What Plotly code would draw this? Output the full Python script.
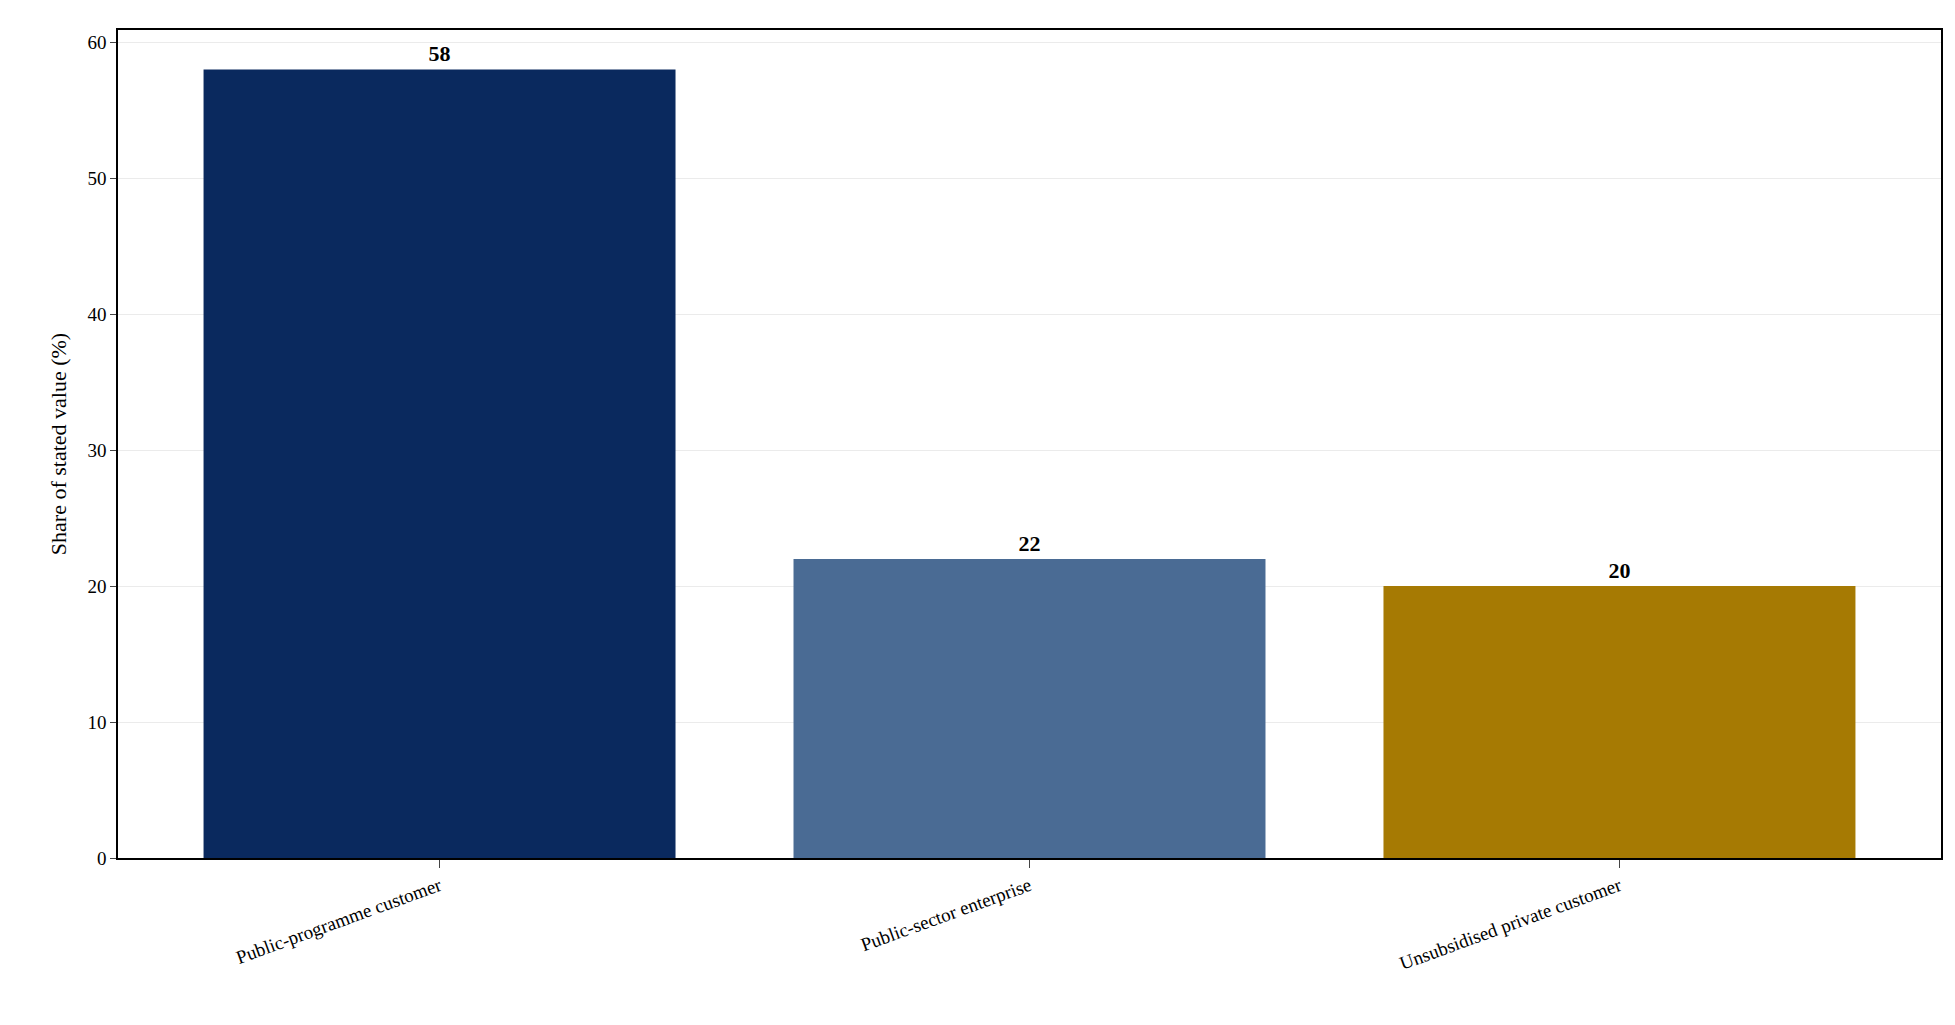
import plotly.graph_objects as go

categories = ["Public-programme customer", "Public-sector enterprise", "Unsubsidised private customer"]
shares = [58, 22, 20]
bar_colors = ["#0a295e", "#4a6b94", "#a67a03"]

fig = go.Figure()
fig.add_trace(go.Bar(
    x=list(range(len(categories))),
    y=shares,
    width=0.8,
    marker=dict(color=bar_colors, line=dict(width=0)),
    text=[f"<b>{v}</b>" for v in shares],
    textposition="outside",
    textfont=dict(size=22, color="black"),
    cliponaxis=False,
))

fig.update_layout(
    width=1955, height=1025,
    margin=dict(l=110, r=22, t=22, b=175),
    plot_bgcolor="white", paper_bgcolor="white",
    font=dict(family="Liberation Serif", size=19, color="black"),
    showlegend=False,
    bargap=0.2,
)
fig.update_xaxes(
    tickmode="array", tickvals=list(range(len(categories))), ticktext=categories,
    tickangle=-20, range=[-0.545, 2.545],
    ticks="outside", ticklen=8, showgrid=False,
    showline=True, linecolor="black", mirror=True, linewidth=1.5,
)
fig.update_yaxes(
    title_text="Share of stated value (%)", title_font=dict(size=22),
    range=[0, 60.9], dtick=10, ticks="outside", ticklen=6,
    showgrid=True, gridcolor="#ebebeb", zeroline=False,
    showline=True, linecolor="black", mirror=True, linewidth=1.5,
)

fig.write_html("out.html")
